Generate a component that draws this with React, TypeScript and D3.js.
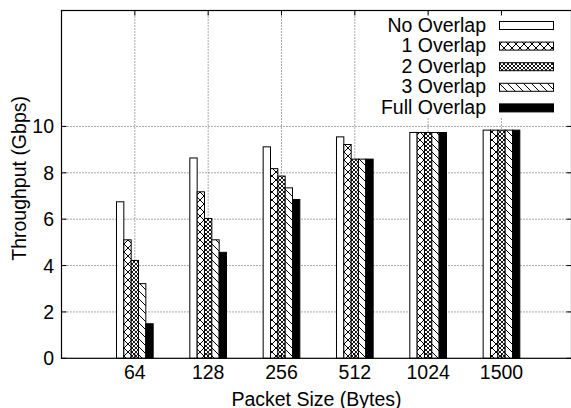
import React from "react";
import * as d3 from "d3";

const categories = ["64", "128", "256", "512", "1024", "1500"];
const seriesNames = ["No Overlap", "1 Overlap", "2 Overlap", "3 Overlap", "Full Overlap"];
const noOverlap = [6.75, 8.64, 9.12, 9.55, 9.74, 9.84];
const overlap1 = [5.11, 7.18, 8.18, 9.22, 9.74, 9.84];
const overlap2 = [4.22, 6.03, 7.86, 8.59, 9.74, 9.84];
const overlap3 = [3.22, 5.11, 7.35, 8.59, 9.74, 9.84];
const fullOverlap = [1.49, 4.57, 6.85, 8.59, 9.74, 9.84];
const yTicks = [0, 2, 4, 6, 8, 10];

const seriesValues = [noOverlap, overlap1, overlap2, overlap3, fullOverlap];
const fills = ["#fff", "url(#p1)", "url(#p2)", "url(#p5)", "#000"];

const W = 571;
const H = 408;
const left = 61.5;
const right = 571.5;
const top = 10.5;
const bottom = 358.3;
const FONT = "'Liberation Sans', Arial, Helvetica, sans-serif";
const FS = 19.5;

export default function App() {
  const x = d3.scaleLinear().domain([-1, (right - left) / 73.33 - 1]).range([left, right]);
  const y = d3.scaleLinear().domain([0, 15]).range([bottom, top]);
  const bw = x(0.1) - x(0);
  const tickLen = 5;

  return (
    <svg width={W} height={H} style={{ position: "absolute", left: 0, top: 0 }} fontFamily={FONT}>
      <defs>
        <pattern id="p1" patternUnits="userSpaceOnUse" width={8} height={8}>
          <rect width={8} height={8} fill="#fff" />
          <path d="M0,0L8,8M0,8L8,0" stroke="#000" strokeWidth={1} />
        </pattern>
        <pattern id="p2" patternUnits="userSpaceOnUse" width={4} height={4}>
          <rect width={4} height={4} fill="#fff" />
          <path d="M0,0L4,4M0,4L4,0" stroke="#000" strokeWidth={0.9} />
        </pattern>
        <pattern id="p5" patternUnits="userSpaceOnUse" width={8} height={8}>
          <rect width={8} height={8} fill="#fff" />
          <path d="M0,0L8,8M-2,6L2,10M6,-2L10,2" stroke="#000" strokeWidth={1} />
        </pattern>
      </defs>
      <rect width={W} height={H} fill="#fff" />
      {/* grid */}
      {yTicks.filter((t) => t > 0).map((t) => (
        <line key={"gy" + t} x1={left} x2={right} y1={y(t)} y2={y(t)} stroke="#555" strokeWidth={1} strokeDasharray="1,2" />
      ))}
      {categories.map((c, i) => (
        <line key={"gx" + c} x1={x(i)} x2={x(i)} y1={top} y2={bottom} stroke="#555" strokeWidth={1} strokeDasharray="1,2" />
      ))}
      {/* legend background */}
      <rect x={378} y={14} width={186} height={103} fill="#fff" />
      {/* bars */}
      {seriesValues.map((vals, j) =>
        vals.map((v, i) => (
          <rect
            key={"b" + j + "-" + i}
            x={x(i + (j - 2.5) * 0.1)}
            y={y(v)}
            width={bw}
            height={y(0) - y(v)}
            fill={fills[j]}
            stroke="#000"
            strokeWidth={1}
          />
        ))
      )}
      {/* border */}
      <rect x={left} y={top} width={right - left} height={bottom - top} fill="none" stroke="#000" strokeWidth={1.2} />
      {/* y ticks */}
      {yTicks.map((t) => (
        <g key={"yt" + t}>
          <line x1={left} x2={left + tickLen} y1={y(t)} y2={y(t)} stroke="#000" />
          <line x1={right} x2={right - tickLen} y1={y(t)} y2={y(t)} stroke="#000" />
          <text x={54} y={y(t) + 7} textAnchor="end" fontSize={FS} fill="#000">{t}</text>
        </g>
      ))}
      {/* x ticks */}
      {categories.map((c, i) => (
        <g key={"xt" + c}>
          <line x1={x(i)} x2={x(i)} y1={bottom} y2={bottom - tickLen} stroke="#000" />
          <line x1={x(i)} x2={x(i)} y1={top} y2={top + tickLen} stroke="#000" />
          <text x={x(i)} y={378.5} textAnchor="middle" fontSize={FS} fill="#000">{c}</text>
        </g>
      ))}
      {/* axis titles */}
      <text x={(left + right) / 2} y={405.5} textAnchor="middle" fontSize={FS} fill="#000">
        Packet Size (Bytes)
      </text>
      <text transform={`translate(26,${(top + bottom) / 2 - 6}) rotate(-90)`} textAnchor="middle" fontSize={FS} fill="#000">
        Throughput (Gbps)
      </text>
      {/* legend */}
      {seriesNames.map((n, j) => {
        const base = 31.5 + j * 20.6;
        return (
          <g key={"lg" + n}>
            <text x={486} y={base} textAnchor="end" fontSize={FS} fill="#000">{n}</text>
            <rect x={499.5} y={base - 10} width={54} height={8} fill={fills[j]} stroke="#000" strokeWidth={1} />
          </g>
        );
      })}
    </svg>
  );
}
